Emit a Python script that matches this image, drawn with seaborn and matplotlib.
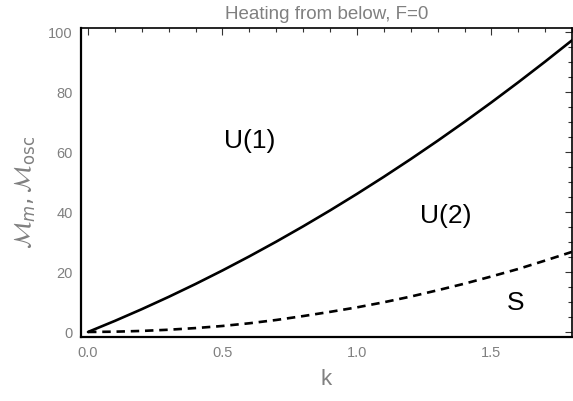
import numpy as np
import pandas as pd
import matplotlib
matplotlib.use("Agg")
import matplotlib.pyplot as plt
from matplotlib.ticker import MultipleLocator, FormatStrFormatter
import seaborn as sns

k = [0.0, 0.1, 0.2, 0.3, 0.4, 0.5, 0.6, 0.7, 0.8, 0.9, 1.0,
     1.1, 1.2, 1.3, 1.4, 1.5, 1.6, 1.7, 1.8]
M_m = [0.0, 3.7, 7.6, 11.7, 16.0, 20.5, 25.2, 30.1, 35.2, 40.5, 46.0,
       51.7, 57.6, 63.7, 70.0, 76.5, 83.2, 90.1, 97.2]
M_osc = [0.0, 0.1, 0.35, 0.75, 1.3, 2.0, 2.9, 4.0, 5.3, 6.7, 8.2,
         9.9, 11.8, 13.9, 16.1, 18.5, 21.0, 23.8, 26.7]
region_labels = ["U(1)", "U(2)", "S"]
region_k = [0.60, 1.33, 1.59]
region_M = [64, 39, 10]

df = pd.DataFrame({
    "k": k * 2,
    "M": M_m + M_osc,
    "curve": ["m"] * len(k) + ["osc"] * len(k),
})

sns.set_style("white")
plt.rcParams['font.family'] = ['DejaVu Sans']

fig = plt.figure(figsize=(5.73, 4.02), dpi=100)
ax = fig.add_axes([0.1414, 0.159, 0.857, 0.769])

sns.lineplot(data=df, x="k", y="M", style="curve", dashes={"m": "", "osc": (3.2, 2.2)},
             color="black", linewidth=1.9, legend=False, ax=ax, estimator=None)

for lab, xk, ym in zip(region_labels, region_k, region_M):
    ax.text(xk, ym, lab, fontsize=19, ha="center", va="center", color="black",
            family=["Liberation Sans", "DejaVu Sans"])

ax.set_xlim(-0.026, 1.8)
ax.set_ylim(-1.7, 101.3)
ax.xaxis.set_major_locator(MultipleLocator(0.5))
ax.xaxis.set_minor_locator(MultipleLocator(0.1))
ax.yaxis.set_major_locator(MultipleLocator(20))
ax.yaxis.set_minor_locator(MultipleLocator(5))
ax.xaxis.set_major_formatter(FormatStrFormatter("%.1f"))
ax.yaxis.set_major_formatter(FormatStrFormatter("%d"))

gray = "#808080"
ax.tick_params(which="both", direction="in", top=True, right=True,
               labelcolor=gray, labelsize=10.5, color="#333333", width=0.8)
ax.tick_params(which="major", length=5, pad=6)
ax.tick_params(which="minor", length=3)
for lbl in ax.get_xticklabels() + ax.get_yticklabels():
    lbl.set_family(["Liberation Sans", "DejaVu Sans"])

for s in ["left", "bottom", "top", "right"]:
    ax.spines[s].set_color("black")
ax.spines["left"].set_linewidth(1.6)
ax.spines["bottom"].set_linewidth(1.6)
ax.spines["top"].set_linewidth(1.2)
ax.spines["right"].set_linewidth(1.2)

ax.set_xlabel("k", fontsize=16, color=gray, family=["Liberation Sans", "DejaVu Sans"])
ax.xaxis.set_label_coords(0.5, -0.1)
ax.set_ylabel(r"$\mathcal{M}_m,\mathcal{M}_{\rm osc}$", fontsize=17, color=gray)
ax.yaxis.set_label_coords(-0.088, 0.47)
ax.set_title("Heating from below, F=0", fontsize=13.5, color=gray,
             family=["Liberation Sans", "DejaVu Sans"], pad=7)

fig.savefig("out.png", dpi=100)
